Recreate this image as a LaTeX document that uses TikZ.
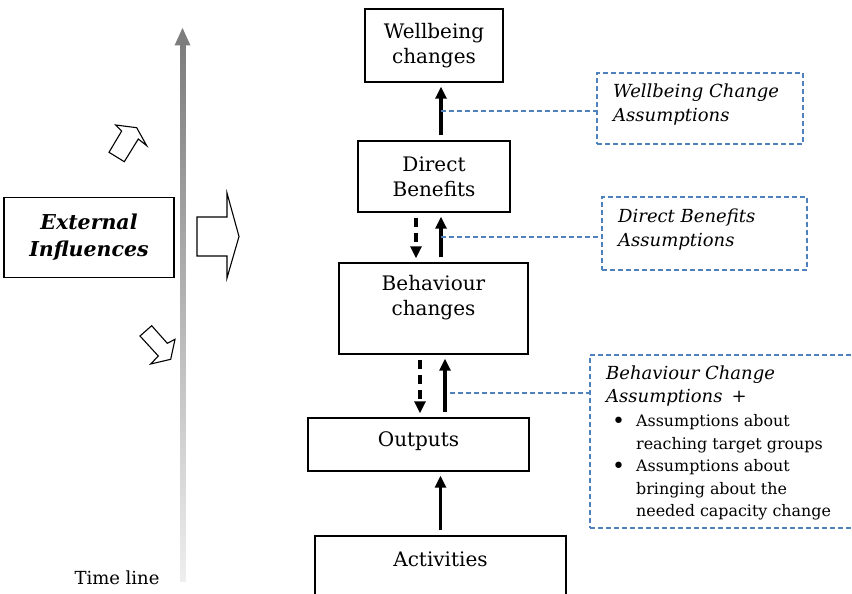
\documentclass[tikz,border=0pt]{standalone}
\usepackage{fontspec}
\setmainfont{DejaVu Serif}
\usetikzlibrary{arrows.meta,calc}
\definecolor{asblue}{RGB}{79,129,189}
\definecolor{tltop}{RGB}{125,125,125}
\definecolor{tlbot}{RGB}{238,238,238}
\newcommand{\mybul}{\raisebox{-2pt}{\fontsize{22}{22}\selectfont\textbullet}}
\begin{document}
\begin{tikzpicture}[x=1pt,y=-1pt,
  box/.style={draw=black,line width=1.4pt,inner sep=0pt},
  boxtext/.style={align=center,font=\fontsize{20}{25}\selectfont},
  assum/.style={draw=asblue,line width=1.3pt,dash pattern=on 5pt off 3pt,inner sep=0pt},
  asstext/.style={align=left,anchor=west,inner sep=0pt,font=\fontsize{18}{24}\selectfont\itshape},
  sarr/.style={line width=3.1pt,-{Triangle[width=11pt,length=12pt]},shorten <=5pt,shorten >=4pt},
  darr/.style={sarr,dash pattern=on 9pt off 6pt},
  link/.style={draw=asblue,line width=1.2pt,dash pattern=on 5pt off 3pt},
  blockarrow/.style={draw=black,line width=1.1pt,fill=white,line join=miter},
]
\clip (0,0) rectangle (852,594);
\fill[white] (0,0) rectangle (852,594);

% time line
\shade[top color=tltop,bottom color=tlbot] (180,44) rectangle (185.5,581);
\fill[tltop] (174.5,45.5) -- (190.5,45.5) -- (182.5,28) -- cycle;
\node[font=\fontsize{18}{22}\selectfont] (tl) at (117,578) {Time line};

% external influences
\node[box,minimum width=170pt,minimum height=80pt,align=center,
      font=\fontsize{20.5}{27}\selectfont\bfseries\itshape] (ext) at (89,237.5) {External\\Influences};

% block arrows
\draw[blockarrow] (197,217) -- (227,217) -- (227,193) -- (239,236.5) -- (227,278) -- (227,256) -- (197,256) -- cycle;
\draw[blockarrow] (115.7,125) -- (121.7,131) -- (109,152.3) -- (124.3,161.7) -- (138.3,139) -- (146.7,145.7) -- (136.7,127.7) -- cycle;
\draw[blockarrow] (140,336) -- (151.7,325.7) -- (167.3,343.3) -- (175,339.3) -- (170.7,359.3) -- (150.7,364) -- (158.3,356) -- cycle;

% chain boxes
\node[box,boxtext,minimum width=138pt,minimum height=73pt] (well) at (434,45.5) {Wellbeing\\changes};
\node[box,boxtext,minimum width=152pt,minimum height=71pt] (direct) at (434,176.5) {Direct\\Benefits};
\node[box,minimum width=189pt,minimum height=91pt] (behav) at (433.5,308.5) {};
\node[boxtext] (behavt) at (433.5,298) {Behaviour\\changes};
\node[box,minimum width=221pt,minimum height=53pt] (outputs) at (418.5,444.5) {};
\node[boxtext] (outputst) at (418.5,441) {Outputs};
\node[box,minimum width=251pt,minimum height=104pt] (act) at (440.5,588) {};
\node[boxtext] (actt) at (440.5,559) {Activities};

% chain arrows
\draw[sarr] ([xshift=7pt]direct.north) -- ([xshift=7pt]direct.north |- well.south);
\draw[darr] ([xshift=-18pt]direct.south) -- ([xshift=-18pt]direct.south |- behav.north);
\draw[sarr] ([xshift=7.5pt]behav.north) -- ([xshift=7.5pt]behav.north |- direct.south);
\draw[darr] ([xshift=-13.5pt]behav.south) -- ([xshift=-13.5pt]behav.south |- outputs.north);
\draw[sarr] ([xshift=11.5pt]behav.south |- outputs.north) -- ([xshift=11.5pt]behav.south);
\draw[sarr] (act.north) -- (act.north |- outputs.south);

% assumption boxes
\node[assum,minimum width=206pt,minimum height=71pt] (wa) at (700,108.5) {};
\node[asstext] (wat) at (613,105) {Wellbeing Change\\Assumptions};
\node[assum,minimum width=205pt,minimum height=73pt] (da) at (704.5,233.5) {};
\node[asstext] (dat) at (618,229.5) {Direct Benefits\\Assumptions};
\node[assum,minimum width=280pt,minimum height=173pt] (ba) at (730,441.5) {};
\node[asstext,font=\fontsize{18}{23}\selectfont\itshape] (bah) at (606,386.5) {Behaviour Change\\Assumptions\enspace+};
\node[anchor=north west,inner sep=0pt,font=\fontsize{15.9}{22.5}\selectfont] (bat) at (612,411)
  {\begin{tabular}{@{}l@{\hspace{11pt}}l@{}}
   \mybul & Assumptions about\\
          & reaching target groups\\
   \mybul & Assumptions about\\
          & bringing about the\\
          & needed capacity change
   \end{tabular}};

% links to assumptions
\coordinate (l1) at (441,111);
\draw[link] (l1) -- (l1 -| wa.west);
\coordinate (l2) at (441,237);
\draw[link] (l2) -- (l2 -| da.west);
\coordinate (l3) at (450,393);
\draw[link] (l3) -- (l3 -| ba.west);
\end{tikzpicture}
\end{document}
